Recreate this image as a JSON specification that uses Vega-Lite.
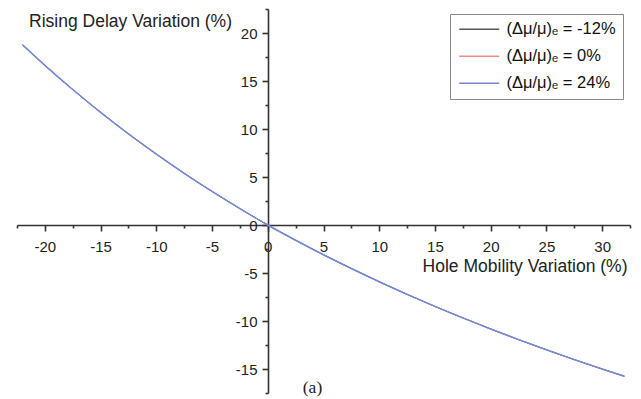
{
  "$schema": "https://vega.github.io/schema/vega-lite/v6.json",
  "autosize": "none",
  "width": 613,
  "height": 384,
  "padding": {"left": 17, "top": 9, "right": 11, "bottom": 6},
  "background": "white",
  "config": {
    "view": {"stroke": null},
    "font": "Liberation Sans",
    "axis": {"grid": false, "domainColor": "#333", "tickColor": "#333", "domainWidth": 1.6, "tickWidth": 1.6, "labelColor": "#222", "titleColor": "#222", "labelFont": "Liberation Sans", "titleFont": "Liberation Sans", "labelFontSize": 15, "titleFontSize": 17.5, "titleFontWeight": "normal"}
  },
  "title": {"text": "(a)", "orient": "bottom", "anchor": "middle", "dx": -11, "offset": -1, "baseline": "alphabetic", "font": "Liberation Serif", "fontSize": 17.5, "fontWeight": "normal", "color": "#222"},
  "data": {"values": [
    {"s": "(Δμ/μ)ₑ = -12%", "x": -22, "y": 18.76}, {"s": "(Δμ/μ)ₑ = -12%", "x": -20, "y": 16.63}, {"s": "(Δμ/μ)ₑ = -12%", "x": -17.5, "y": 14.11}, {"s": "(Δμ/μ)ₑ = -12%", "x": -15, "y": 11.74}, {"s": "(Δμ/μ)ₑ = -12%", "x": -12.5, "y": 9.5}, {"s": "(Δμ/μ)ₑ = -12%", "x": -10, "y": 7.39}, {"s": "(Δμ/μ)ₑ = -12%", "x": -7.5, "y": 5.39}, {"s": "(Δμ/μ)ₑ = -12%", "x": -5, "y": 3.5}, {"s": "(Δμ/μ)ₑ = -12%", "x": -2.5, "y": 1.71}, {"s": "(Δμ/μ)ₑ = -12%", "x": 0, "y": 0}, {"s": "(Δμ/μ)ₑ = -12%", "x": 2.5, "y": -1.59}, {"s": "(Δμ/μ)ₑ = -12%", "x": 5, "y": -3.1}, {"s": "(Δμ/μ)ₑ = -12%", "x": 7.5, "y": -4.53}, {"s": "(Δμ/μ)ₑ = -12%", "x": 10, "y": -5.91}, {"s": "(Δμ/μ)ₑ = -12%", "x": 12.5, "y": -7.22}, {"s": "(Δμ/μ)ₑ = -12%", "x": 15, "y": -8.48}, {"s": "(Δμ/μ)ₑ = -12%", "x": 17.5, "y": -9.68}, {"s": "(Δμ/μ)ₑ = -12%", "x": 20, "y": -10.83}, {"s": "(Δμ/μ)ₑ = -12%", "x": 22.5, "y": -11.94}, {"s": "(Δμ/μ)ₑ = -12%", "x": 25, "y": -13.0}, {"s": "(Δμ/μ)ₑ = -12%", "x": 27.5, "y": -14.02}, {"s": "(Δμ/μ)ₑ = -12%", "x": 30, "y": -15.0}, {"s": "(Δμ/μ)ₑ = -12%", "x": 32, "y": -15.76},
    {"s": "(Δμ/μ)ₑ = 0%", "x": -22, "y": 18.76}, {"s": "(Δμ/μ)ₑ = 0%", "x": -20, "y": 16.63}, {"s": "(Δμ/μ)ₑ = 0%", "x": -17.5, "y": 14.11}, {"s": "(Δμ/μ)ₑ = 0%", "x": -15, "y": 11.74}, {"s": "(Δμ/μ)ₑ = 0%", "x": -12.5, "y": 9.5}, {"s": "(Δμ/μ)ₑ = 0%", "x": -10, "y": 7.39}, {"s": "(Δμ/μ)ₑ = 0%", "x": -7.5, "y": 5.39}, {"s": "(Δμ/μ)ₑ = 0%", "x": -5, "y": 3.5}, {"s": "(Δμ/μ)ₑ = 0%", "x": -2.5, "y": 1.71}, {"s": "(Δμ/μ)ₑ = 0%", "x": 0, "y": 0}, {"s": "(Δμ/μ)ₑ = 0%", "x": 2.5, "y": -1.59}, {"s": "(Δμ/μ)ₑ = 0%", "x": 5, "y": -3.1}, {"s": "(Δμ/μ)ₑ = 0%", "x": 7.5, "y": -4.53}, {"s": "(Δμ/μ)ₑ = 0%", "x": 10, "y": -5.91}, {"s": "(Δμ/μ)ₑ = 0%", "x": 12.5, "y": -7.22}, {"s": "(Δμ/μ)ₑ = 0%", "x": 15, "y": -8.48}, {"s": "(Δμ/μ)ₑ = 0%", "x": 17.5, "y": -9.68}, {"s": "(Δμ/μ)ₑ = 0%", "x": 20, "y": -10.83}, {"s": "(Δμ/μ)ₑ = 0%", "x": 22.5, "y": -11.94}, {"s": "(Δμ/μ)ₑ = 0%", "x": 25, "y": -13.0}, {"s": "(Δμ/μ)ₑ = 0%", "x": 27.5, "y": -14.02}, {"s": "(Δμ/μ)ₑ = 0%", "x": 30, "y": -15.0}, {"s": "(Δμ/μ)ₑ = 0%", "x": 32, "y": -15.76},
    {"s": "(Δμ/μ)ₑ = 24%", "x": -22, "y": 18.76}, {"s": "(Δμ/μ)ₑ = 24%", "x": -20, "y": 16.63}, {"s": "(Δμ/μ)ₑ = 24%", "x": -17.5, "y": 14.11}, {"s": "(Δμ/μ)ₑ = 24%", "x": -15, "y": 11.74}, {"s": "(Δμ/μ)ₑ = 24%", "x": -12.5, "y": 9.5}, {"s": "(Δμ/μ)ₑ = 24%", "x": -10, "y": 7.39}, {"s": "(Δμ/μ)ₑ = 24%", "x": -7.5, "y": 5.39}, {"s": "(Δμ/μ)ₑ = 24%", "x": -5, "y": 3.5}, {"s": "(Δμ/μ)ₑ = 24%", "x": -2.5, "y": 1.71}, {"s": "(Δμ/μ)ₑ = 24%", "x": 0, "y": 0}, {"s": "(Δμ/μ)ₑ = 24%", "x": 2.5, "y": -1.59}, {"s": "(Δμ/μ)ₑ = 24%", "x": 5, "y": -3.1}, {"s": "(Δμ/μ)ₑ = 24%", "x": 7.5, "y": -4.53}, {"s": "(Δμ/μ)ₑ = 24%", "x": 10, "y": -5.91}, {"s": "(Δμ/μ)ₑ = 24%", "x": 12.5, "y": -7.22}, {"s": "(Δμ/μ)ₑ = 24%", "x": 15, "y": -8.48}, {"s": "(Δμ/μ)ₑ = 24%", "x": 17.5, "y": -9.68}, {"s": "(Δμ/μ)ₑ = 24%", "x": 20, "y": -10.83}, {"s": "(Δμ/μ)ₑ = 24%", "x": 22.5, "y": -11.94}, {"s": "(Δμ/μ)ₑ = 24%", "x": 25, "y": -13.0}, {"s": "(Δμ/μ)ₑ = 24%", "x": 27.5, "y": -14.02}, {"s": "(Δμ/μ)ₑ = 24%", "x": 30, "y": -15.0}, {"s": "(Δμ/μ)ₑ = 24%", "x": 32, "y": -15.76}
  ]},
  "resolve": {"axis": {"x": "independent", "y": "independent"}},
  "layer": [
    {
      "mark": {"type": "line", "interpolate": "monotone", "strokeWidth": 0.9},
      "encoding": {
        "x": {"field": "x", "type": "quantitative", "scale": {"domain": [-22.5, 32.5], "nice": false, "zero": false},
          "axis": {"orient": "bottom", "values": [-20, -15, -10, -5, 0, 5, 10, 15, 20, 25, 30], "labelExpr": "'' + datum.value", "offset": -168, "tickSize": 6, "labelPadding": 8, "labelFlush": false, "labelOverlap": false,
            "title": "Hole Mobility Variation (%)", "titleAnchor": null, "titleAlign": "right", "titleBaseline": "alphabetic", "titleX": 610, "titleY": 46}},
        "y": {"field": "y", "type": "quantitative", "scale": {"domain": [-17.5, 22.5], "nice": false, "zero": false},
          "axis": {"orient": "left", "values": [-15, -10, -5, 0, 5, 10, 15, 20], "labelExpr": "'' + datum.value", "offset": -251, "tickSize": 6, "labelPadding": 5, "labelFlush": false, "labelOverlap": false,
            "title": "Rising Delay Variation (%)", "titleAngle": 0, "titleAnchor": null, "titleAlign": "center", "titleBaseline": "alphabetic", "titleX": -138, "titleY": 17}},
        "color": {"field": "s", "type": "nominal",
          "scale": {"domain": ["(Δμ/μ)ₑ = -12%", "(Δμ/μ)ₑ = 0%", "(Δμ/μ)ₑ = 24%"], "range": ["#555555", "#f08a8a", "#7389d4"]},
          "legend": {"orient": "none", "legendX": 433, "legendY": 5, "title": null, "symbolType": "M-1,0H5.667", "symbolSize": 144, "symbolStrokeWidth": 1.3,
            "labelFont": "Liberation Sans", "labelFontSize": 16.5, "labelColor": "#111", "labelOffset": 33, "strokeColor": "#888", "padding": 7, "rowPadding": 10, "fillColor": "white"}}
      }
    },
    {
      "transform": [{"filter": "datum.s == '(Δμ/μ)ₑ = 24%'"}],
      "mark": {"type": "line", "interpolate": "monotone", "strokeWidth": 1.5, "color": "#7389d4"},
      "encoding": {
        "x": {"field": "x", "type": "quantitative", "axis": null},
        "y": {"field": "y", "type": "quantitative", "axis": null}
      }
    },
    {
      "mark": {"type": "line", "strokeOpacity": 0},
      "encoding": {
        "x": {"field": "x", "type": "quantitative",
          "axis": {"orient": "bottom", "values": [-22.5, -17.5, -12.5, -7.5, -2.5, 2.5, 7.5, 12.5, 17.5, 22.5, 27.5, 32.5], "offset": -168, "tickSize": 3, "labels": false, "domain": false, "title": null}},
        "y": {"field": "y", "type": "quantitative",
          "axis": {"orient": "left", "values": [-17.5, -12.5, -7.5, -2.5, 2.5, 7.5, 12.5, 17.5, 22.5], "offset": -251, "tickSize": 3, "labels": false, "domain": false, "title": null}},
        "detail": {"field": "s"}
      }
    }
  ]
}
